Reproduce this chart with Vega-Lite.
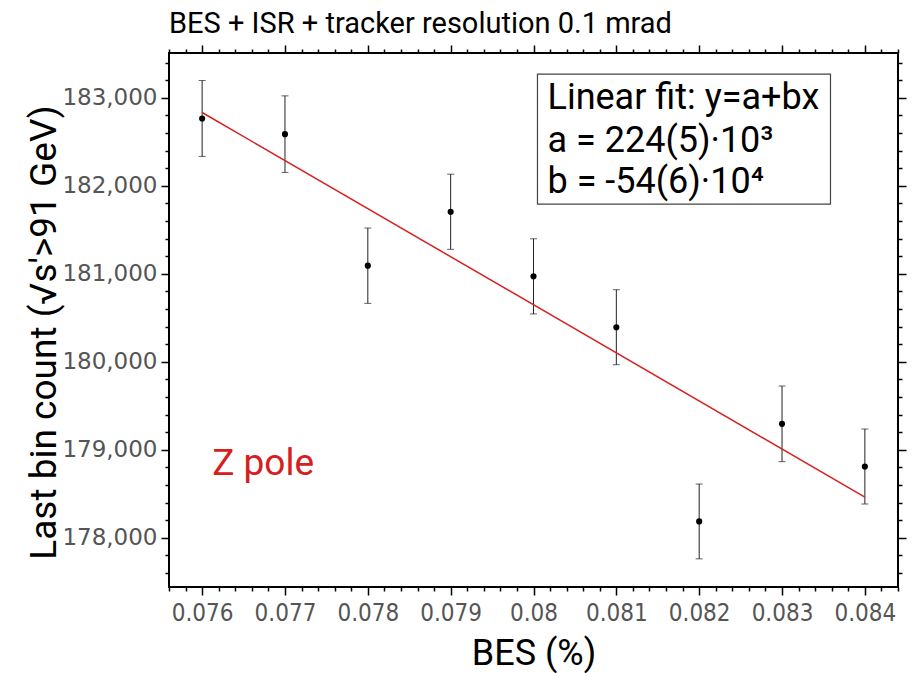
{
  "$schema": "https://vega.github.io/schema/vega-lite/v6.json",
  "width": 729,
  "height": 534,
  "autosize": {"type": "none"},
  "padding": {"left": 169, "top": 53, "right": 20, "bottom": 86},
  "background": "white",
  "title": {"text": "BES + ISR + tracker resolution 0.1 mrad", "anchor": "start", "frame": "group", "font": "Roboto", "fontSize": 29, "fontWeight": "normal", "color": "#000", "offset": 5},
  "config": {
    "view": {"stroke": "#000", "strokeWidth": 2},
    "axis": {"grid": false, "domain": false, "tickColor": "#000", "tickWidth": 1.5}
  },
  "datasets": {
    "pts": [
      {"bes": 0.076, "count": 182764, "err": 431},
      {"bes": 0.077, "count": 182586, "err": 435},
      {"bes": 0.078, "count": 181091, "err": 428},
      {"bes": 0.079, "count": 181704, "err": 427},
      {"bes": 0.080, "count": 180970, "err": 427},
      {"bes": 0.081, "count": 180392, "err": 426},
      {"bes": 0.082, "count": 178185, "err": 425},
      {"bes": 0.083, "count": 179294, "err": 430},
      {"bes": 0.084, "count": 178809, "err": 426}
    ],
    "fit": [
      {"bes": 0.076, "count": 182832},
      {"bes": 0.084, "count": 178462}
    ]
  },
  "layer": [
    {
      "data": {"name": "pts"},
      "mark": {"type": "errorbar", "ticks": {"size": 7}, "color": "#222", "thickness": 1},
      "encoding": {
        "x": {"field": "bes", "type": "quantitative", "scale": {"domain": [0.0756, 0.0844], "nice": false, "zero": false},
              "axis": {"orient": "bottom", "values": [0.076, 0.077, 0.078, 0.079, 0.08, 0.081, 0.082, 0.083, 0.084], "format": ".3~f", "tickSize": 8, "labelFont": "DejaVu Sans Condensed, Roboto", "labelFontSize": 24, "labelColor": "#555", "labelPadding": 6, "labelFlush": false,
                       "title": "BES (%)", "titleFont": "Roboto", "titleFontSize": 36, "titleFontWeight": "normal", "titleColor": "#000", "titleBaseline": "alphabetic", "titleY": 77}},
        "y": {"field": "count", "type": "quantitative", "scale": {"domain": [177440, 183508], "nice": false, "zero": false},
              "axis": {"orient": "left", "values": [178000, 179000, 180000, 181000, 182000, 183000], "format": ",d", "tickSize": 8, "labelFont": "DejaVu Sans", "labelFontSize": 23, "labelColor": "#555", "labelPadding": 4,
                       "title": "Last bin count (√s'>91 GeV)", "titleFont": "Roboto", "titleFontSize": 37, "titleFontWeight": "normal", "titleColor": "#000", "titleBaseline": "alphabetic", "titleX": -114, "titleY": 279, "titleAlign": "center", "titleAngle": 270}},
        "yError": {"field": "err"}
      }
    },
    {
      "data": {"name": "fit"},
      "mark": {"type": "line", "color": "#d62020", "strokeWidth": 1.5},
      "encoding": {
        "x": {"field": "bes", "type": "quantitative", "scale": {"domain": [0.0756, 0.0844], "nice": false, "zero": false}, "axis": null},
        "y": {"field": "count", "type": "quantitative", "scale": {"domain": [177440, 183508], "nice": false, "zero": false}, "axis": null}
      }
    },
    {
      "data": {"name": "pts"},
      "mark": {"type": "circle", "color": "#000", "opacity": 1, "size": 38},
      "encoding": {
        "x": {"field": "bes", "type": "quantitative", "scale": {"domain": [0.0756, 0.0844], "nice": false, "zero": false}, "axis": null},
        "y": {"field": "count", "type": "quantitative", "scale": {"domain": [177440, 183508], "nice": false, "zero": false}, "axis": null}
      }
    },
    {
      "data": {"name": "pts"},
      "mark": {"type": "point", "opacity": 0},
      "encoding": {
        "x": {"field": "bes", "type": "quantitative", "scale": {"domain": [0.0756, 0.0844], "nice": false, "zero": false},
              "axis": {"orient": "bottom", "labels": false, "title": null, "tickSize": 4, "values": [0.0756,0.0758,0.0762,0.0764,0.0766,0.0768,0.0772,0.0774,0.0776,0.0778,0.0782,0.0784,0.0786,0.0788,0.0792,0.0794,0.0796,0.0798,0.0802,0.0804,0.0806,0.0808,0.0812,0.0814,0.0816,0.0818,0.0822,0.0824,0.0826,0.0828,0.0832,0.0834,0.0836,0.0838,0.0842,0.0844]}},
        "y": {"field": "count", "type": "quantitative", "scale": {"domain": [177440, 183508], "nice": false, "zero": false},
              "axis": {"orient": "left", "labels": false, "title": null, "tickSize": 4, "values": [177600,177800,178200,178400,178600,178800,179200,179400,179600,179800,180200,180400,180600,180800,181200,181400,181600,181800,182200,182400,182600,182800,183200,183400]}}
      }
    },
    {
      "data": {"name": "pts"},
      "mark": {"type": "point", "opacity": 0},
      "encoding": {
        "x": {"field": "bes", "type": "quantitative", "scale": {"domain": [0.0756, 0.0844], "nice": false, "zero": false},
              "axis": {"orient": "top", "labels": false, "title": null, "tickSize": 8, "values": [0.076, 0.077, 0.078, 0.079, 0.08, 0.081, 0.082, 0.083, 0.084]}},
        "y": {"field": "count", "type": "quantitative", "scale": {"domain": [177440, 183508], "nice": false, "zero": false},
              "axis": {"orient": "right", "labels": false, "title": null, "tickSize": 8, "values": [178000, 179000, 180000, 181000, 182000, 183000]}}
      }
    },
    {
      "data": {"name": "pts"},
      "mark": {"type": "point", "opacity": 0},
      "encoding": {
        "x": {"field": "bes", "type": "quantitative", "scale": {"domain": [0.0756, 0.0844], "nice": false, "zero": false},
              "axis": {"orient": "top", "labels": false, "title": null, "tickSize": 4, "values": [0.0756,0.0758,0.0762,0.0764,0.0766,0.0768,0.0772,0.0774,0.0776,0.0778,0.0782,0.0784,0.0786,0.0788,0.0792,0.0794,0.0796,0.0798,0.0802,0.0804,0.0806,0.0808,0.0812,0.0814,0.0816,0.0818,0.0822,0.0824,0.0826,0.0828,0.0832,0.0834,0.0836,0.0838,0.0842,0.0844]}},
        "y": {"field": "count", "type": "quantitative", "scale": {"domain": [177440, 183508], "nice": false, "zero": false},
              "axis": {"orient": "right", "labels": false, "title": null, "tickSize": 4, "values": [177600,177800,178200,178400,178600,178800,179200,179400,179600,179800,180200,180400,180600,180800,181200,181400,181600,181800,182200,182400,182600,182800,183200,183400]}}
      }
    },
    {
      "data": {"values": [{}]},
      "mark": {"type": "rect", "fill": "white", "stroke": "#444", "strokeWidth": 1.2},
      "encoding": {
        "x": {"datum": 0.080048, "type": "quantitative", "scale": {"domain": [0.0756, 0.0844], "nice": false, "zero": false}, "axis": null},
        "x2": {"datum": 0.083585},
        "y": {"datum": 183267, "type": "quantitative", "scale": {"domain": [177440, 183508], "nice": false, "zero": false}, "axis": null},
        "y2": {"datum": 181791}
      }
    },
    {
      "data": {"values": [{}]},
      "mark": {"type": "text", "text": "Linear fit: y=a+bx", "font": "Roboto", "fontSize": 36, "align": "left", "baseline": "alphabetic", "color": "#000"},
      "encoding": {
        "x": {"datum": 0.080169, "type": "quantitative", "scale": {"domain": [0.0756, 0.0844], "nice": false, "zero": false}, "axis": null},
        "y": {"datum": 182869, "type": "quantitative", "scale": {"domain": [177440, 183508], "nice": false, "zero": false}, "axis": null}
      }
    },
    {
      "data": {"values": [{}]},
      "mark": {"type": "text", "text": "a = 224(5)·10³", "font": "Roboto", "fontSize": 36, "align": "left", "baseline": "alphabetic", "color": "#000"},
      "encoding": {
        "x": {"datum": 0.080169, "type": "quantitative", "scale": {"domain": [0.0756, 0.0844], "nice": false, "zero": false}, "axis": null},
        "y": {"datum": 182385, "type": "quantitative", "scale": {"domain": [177440, 183508], "nice": false, "zero": false}, "axis": null}
      }
    },
    {
      "data": {"values": [{}]},
      "mark": {"type": "text", "text": "b = -54(6)·10⁴", "font": "Roboto", "fontSize": 36, "align": "left", "baseline": "alphabetic", "color": "#000"},
      "encoding": {
        "x": {"datum": 0.080169, "type": "quantitative", "scale": {"domain": [0.0756, 0.0844], "nice": false, "zero": false}, "axis": null},
        "y": {"datum": 181919, "type": "quantitative", "scale": {"domain": [177440, 183508], "nice": false, "zero": false}, "axis": null}
      }
    },
    {
      "data": {"values": [{}]},
      "mark": {"type": "text", "text": "Z pole", "font": "Roboto", "fontSize": 37, "align": "left", "baseline": "alphabetic", "color": "#d62020"},
      "encoding": {
        "x": {"datum": 0.076121, "type": "quantitative", "scale": {"domain": [0.0756, 0.0844], "nice": false, "zero": false}, "axis": null},
        "y": {"datum": 178709, "type": "quantitative", "scale": {"domain": [177440, 183508], "nice": false, "zero": false}, "axis": null}
      }
    }
  ],
  "resolve": {"axis": {"x": "independent", "y": "independent"}}
}
